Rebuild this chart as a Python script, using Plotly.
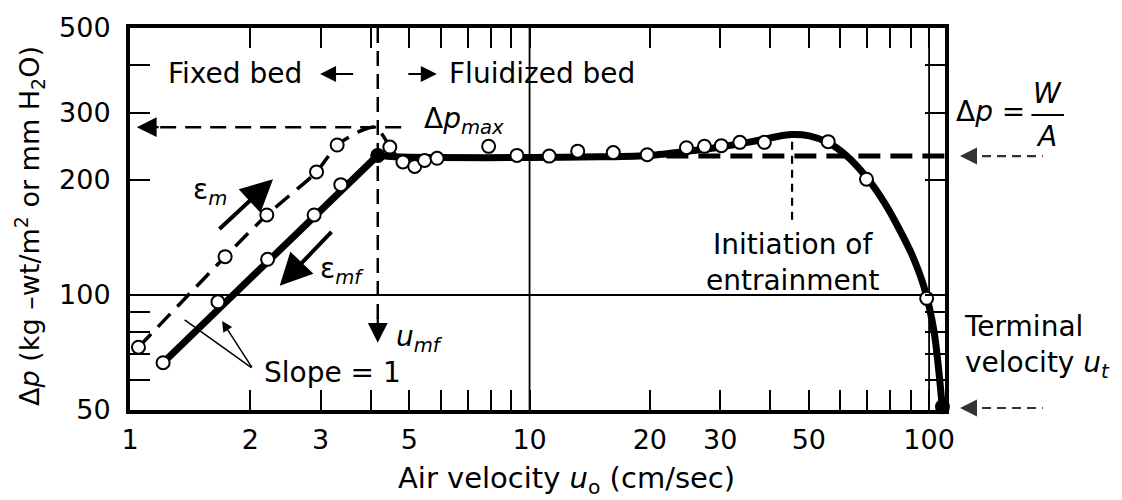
import math
import plotly.graph_objects as go

L = math.log10

# ---------------- data ----------------
U_MIN, U_MAX = 1.0, 109.6          # air velocity axis limits, cm/s
DP_MIN, DP_MAX = 50.0, 500.0       # pressure drop axis limits, kg-wt/m2

x_tickvals = [1, 2, 3, 5, 10, 20, 30, 50, 100]
x_ticktext = ["1", "2", "3", "5", "10", "20", "30", "50", "100"]
x_minor = [4, 6, 7, 8, 9, 40, 60, 70, 80, 90]
y_tickvals = [50, 100, 200, 300, 500]
y_ticktext = ["50", "100", "200", "300", "500"]
y_minor = [60, 70, 80, 90, 400]

# increasing velocity, fixed bed (voidage eps_m): measured points
up_u = [1.05, 1.73, 2.20, 2.93, 3.30]
up_dp = [73, 126, 162, 210, 247]
# dashed curve through them up to dp_max and down to first fluidized point
up_line_u = [1.05, 1.73, 2.20, 2.93, 3.30, 3.75, 4.12, 4.47]
up_line_dp = [73, 126, 162, 210, 247, 268, 275, 244]
# thin transition right after minimum fluidization
trans_u = [4.47, 4.82, 5.16, 5.46, 5.87]
trans_dp = [244, 223, 217, 225, 228]

# decreasing velocity, fixed bed (voidage eps_mf): measured points
down_u = [1.21, 1.66, 2.21, 2.89, 3.37]
down_dp = [66.5, 96, 124, 162, 194.5]
down_line_u = [1.21, 4.17]
down_line_dp = [66.5, 232]

# fluidized bed measured points
flu_u = [4.47, 4.82, 5.16, 5.46, 5.87, 7.9, 9.3, 11.2, 13.2, 16.2, 19.7,
         24.7, 27.4, 30.2, 33.6, 38.7, 55.9, 69.7, 98.6]
flu_dp = [244, 223, 217, 225, 228, 245, 232, 231, 238, 236, 233,
          243, 245, 246, 251, 251, 252, 201, 98]

# fluidized / entrainment curve
curve_u = [4.17, 4.6, 6, 10, 15, 20, 25, 30, 36, 45, 50.1, 55.9, 62.0, 69.6,
           77.2, 84.1, 90.7, 97.2, 102.9, 107.8]
curve_dp = [232, 230, 229, 229, 230, 232, 238, 244, 252, 263, 261, 250.6, 232, 203.9,
            174.8, 149.1, 127.1, 104.6, 80.2, 51.5]

# key values
u_mf, dp_mf = 4.17, 232          # minimum fluidization
u_t, dp_t = 108, 51              # terminal velocity
dp_max = 275                     # peak pressure drop
dp_wa = 231                      # W/A
u_entrain = 45.4                 # initiation of entrainment

FONT = "DejaVu Sans"

fig = go.Figure()


def add_line(u, dp, width, dash=None, shape="linear", smoothing=1.0, color="black"):
    fig.add_trace(go.Scatter(
        x=u, y=dp, mode="lines",
        line=dict(color=color, width=width, dash=dash, shape=shape,
                  smoothing=smoothing if shape == "spline" else None),
        hoverinfo="skip", showlegend=False))


# reference lines
add_line([10, 10], [DP_MIN, DP_MAX], 1.8)
add_line([100, 100], [DP_MIN, DP_MAX], 1.8)
add_line([U_MIN, U_MAX], [100, 100], 1.8)

# dashed guides
add_line([1.19, 5.0], [dp_max, dp_max], 2.5, dash="16px,9px")
add_line([u_mf, u_mf], [DP_MAX, 86], 2.5, dash="15px,8px")
add_line([u_entrain, u_entrain], [252, 153], 2.2, dash="8px,6px")
add_line([22, U_MAX], [dp_wa, dp_wa], 5, dash="22px,10px")

# curves
add_line(up_line_u, up_line_dp, 3.5, dash="18px,10px", shape="spline", smoothing=0.6)
add_line(trans_u, trans_dp, 2)
add_line(down_line_u, down_line_dp, 7)
add_line(curve_u, curve_dp, 7, shape="spline", smoothing=0.8)

# markers
open_marker = dict(symbol="circle", size=13, color="white", line=dict(color="black", width=2))
for uu, pp in [(up_u, up_dp), (down_u, down_dp), (flu_u, flu_dp)]:
    fig.add_trace(go.Scatter(x=uu, y=pp, mode="markers", marker=open_marker,
                             hoverinfo="skip", showlegend=False, cliponaxis=False))
fig.add_trace(go.Scatter(x=[u_mf, u_t], y=[dp_mf, dp_t], mode="markers",
                         marker=dict(symbol="circle", size=15, color="black"),
                         hoverinfo="skip", showlegend=False, cliponaxis=False))

annotations = []


def arrow(u0, p0, u1, p1, width, size, head=2, color="black"):
    annotations.append(dict(
        x=L(u1), y=L(p1), ax=L(u0), ay=L(p0), xref="x", yref="y", axref="x", ayref="y",
        text="", showarrow=True, arrowhead=head, arrowsize=size, arrowwidth=width,
        arrowcolor=color, standoff=0, startstandoff=0))


def label(u, p, text, xanchor="center", size=28, align="center"):
    annotations.append(dict(
        x=L(u), y=L(p), xref="x", yref="y", text=text, showarrow=False,
        xanchor=xanchor, yanchor="middle", align=align,
        font=dict(family=FONT, size=size, color="black")))


def plabel(x, y, text, xanchor="center", size=28, align="center", angle=0):
    annotations.append(dict(
        x=x, y=y, xref="paper", yref="paper", text=text, showarrow=False,
        xanchor=xanchor, yanchor="middle", align=align, textangle=angle,
        font=dict(family=FONT, size=size, color="black")))


def paper_y(dp):
    return (L(dp) - L(DP_MIN)) / (L(DP_MAX) - L(DP_MIN))


# arrows inside the plot
arrow(1.66, 147.6, 2.28, 201, 4, 1.6)           # eps_m
arrow(3.22, 147.6, 2.37, 105.7, 4, 1.6)         # eps_mf
arrow(1.19, dp_max, 1.04, dp_max, 2.2, 1.8)     # dp_max arrow head
arrow(u_mf, 88, u_mf, 75, 2.2, 1.8)             # u_mf
arrow(3.65, 379, 2.99, 379, 2, 1.6)             # fixed bed
arrow(4.93, 379, 5.86, 379, 2, 1.6)             # fluidized bed
arrow(2.03, 64.1, 1.70, 85.5, 1.5, 1.4)         # slope pointer (with head)
arrow(2.03, 64.1, 1.37, 86.1, 1.5, 1, head=0)   # slope pointer (no head)

# dashed arrows outside the plot (right side)
for dp in (dp_wa, 50.6):
    yp = paper_y(dp)
    fig.add_shape(type="line", xref="paper", yref="paper", x0=1.027, x1=1.12, y0=yp, y1=yp,
                  line=dict(color="#333333", width=2.2, dash="9px,6px"))
    annotations.append(dict(x=1.0184, y=yp, xref="paper", yref="paper", ax=16, ay=0,
                            text="", showarrow=True, arrowhead=2, arrowsize=1.7,
                            arrowwidth=2, arrowcolor="#333333", standoff=0))

# text labels inside the plot
label(1.23, 379, "Fixed bed", xanchor="left")
label(6.2, 379, "Fluidized bed", xanchor="left")
label(5.37, 287, "Δ<i>p<sub>max</sub></i>", xanchor="left")
label(1.585, 187, "ε<sub><i>m</i></sub>")
label(3.39, 116, "ε<sub><i>mf</i></sub>")
label(5.31, 77, "<i>u<sub>mf</sub></i>")
label(2.14, 62.6, "Slope = 1", xanchor="left")
label(u_entrain, 121.6, "Initiation of<br>entrainment")

# right-side labels
plabel(1.056, 0.782, "Δ<i>p</i> =")
plabel(1.126, 0.828, "<i>W</i>")
plabel(1.125, 0.716, "<i>A</i>")
fig.add_shape(type="line", xref="paper", yref="paper", x0=1.106, x1=1.146, y0=0.772, y1=0.772,
              line=dict(color="black", width=2))
plabel(1.021, 0.167, "Terminal<br>velocity <i>u<sub>t</sub></i>", xanchor="left", align="left")

# axis titles
plabel(0.535, -0.183, "Air velocity <i>u</i><sub>o</sub> (cm/sec)", size=29)
plabel(-0.1227, 0.482, "Δ<i>p</i> (kg –wt/m<sup>2</sup> or mm H<sub>2</sub>O)", size=27, angle=-90)

axis_common = dict(
    type="log", showline=True, linewidth=4, linecolor="black", mirror="allticks",
    ticks="inside", ticklen=20, tickwidth=2, tickcolor="black",
    showgrid=False, zeroline=False,
    tickfont=dict(family=FONT, size=27, color="black"),
)

fig.update_layout(
    width=1122, height=500,
    margin=dict(l=130, r=177, t=20, b=90),
    paper_bgcolor="white", plot_bgcolor="white",
    showlegend=False,
    xaxis=dict(range=[L(U_MIN), L(U_MAX)], tickmode="array", tickvals=x_tickvals,
               ticktext=x_ticktext, ticklabelstandoff=3,
               minor=dict(tickmode="array", tickvals=x_minor, ticks="inside", ticklen=20,
                          tickwidth=2, tickcolor="black", showgrid=False),
               **axis_common),
    yaxis=dict(range=[L(DP_MIN), L(DP_MAX)], tickmode="array", tickvals=y_tickvals,
               ticktext=y_ticktext, ticklabelstandoff=10,
               minor=dict(tickmode="array", tickvals=y_minor, ticks="inside", ticklen=20,
                          tickwidth=2, tickcolor="black", showgrid=False),
               **axis_common),
    annotations=annotations,
    font=dict(family=FONT, color="black"),
)

fig.write_html("out.html")
